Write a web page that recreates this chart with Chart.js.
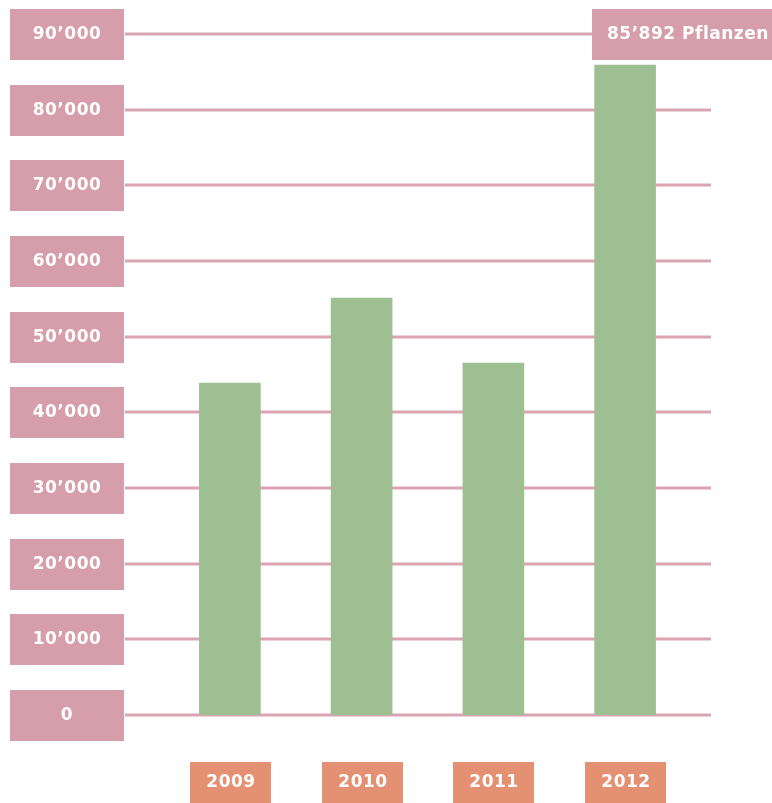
<!DOCTYPE html>
<html>
<head>
<meta charset="utf-8">
<script src="https://cdn.jsdelivr.net/npm/chart.js@4"></script>
<style>
	html, body { margin: 0; padding: 0; background: #fff; }
	canvas { display: block; }
</style>
</head>
<body>
<canvas id="chart" width="772" height="803"></canvas>
<script>
const years = ['2009', '2010', '2011', '2012']
const plants = [43850, 55100, 46500, 85892]
const yTickValues = [0, 10000, 20000, 30000, 40000, 50000, 60000, 70000, 80000, 90000]
const yTickLabels = ['0', '10’000', '20’000', '30’000', '40’000', '50’000', '60’000', '70’000', '80’000', '90’000']
const totalLabel = '85’892 Pflanzen'

const pink = '#d69dab'
const gridPink = '#dca4b2'
const orange = '#e39073'
const green = '#9ebf92'
const labelFont = 'bold 17px "DejaVu Sans", Verdana, sans-serif'

// gridlines and the boxed labels are drawn by hand, the axes themselves are hidden
const boxes = {
	id: 'boxes',
	beforeDatasetsDraw(chart) {
		const ctx = chart.ctx
		const y = chart.scales.y
		ctx.save()
		ctx.strokeStyle = gridPink
		ctx.lineWidth = 3
		yTickValues.forEach((v, i) => {
			const py = Math.round(y.getPixelForValue(v))
			const end = i === yTickValues.length - 1 ? 592 : 711
			ctx.beginPath()
			ctx.moveTo(125, py)
			ctx.lineTo(end, py)
			ctx.stroke()
		})
		ctx.restore()
	},
	afterDraw(chart) {
		const ctx = chart.ctx
		const x = chart.scales.x
		const y = chart.scales.y
		ctx.save()
		ctx.font = labelFont
		ctx.letterSpacing = '0.5px'
		ctx.textBaseline = 'middle'

		// y labels
		yTickValues.forEach((v, i) => {
			const py = Math.round(y.getPixelForValue(v))
			ctx.fillStyle = pink
			ctx.fillRect(10, py - 25, 114, 51)
			ctx.fillStyle = '#fff'
			ctx.textAlign = 'center'
			ctx.fillText(yTickLabels[i], 67, py + 1)
		})

		// year labels
		years.forEach((yr, i) => {
			const px = Math.round(x.getPixelForValue(i))
			ctx.fillStyle = orange
			ctx.fillRect(px - 40, 762, 81, 41)
			ctx.fillStyle = '#fff'
			ctx.textAlign = 'center'
			ctx.fillText(yr, px + 1, 783)
		})

		// total box top right
		const top = Math.round(y.getPixelForValue(yTickValues[yTickValues.length - 1]))
		ctx.fillStyle = pink
		ctx.fillRect(592, top - 25, 180, 51)
		ctx.fillStyle = '#fff'
		ctx.textAlign = 'left'
		ctx.fillText(totalLabel, 607, top + 1)
		ctx.restore()
	}
}

new Chart(document.getElementById('chart'), {
	type: 'bar',
	data: {
		labels: years,
		datasets: [
			{
				data: plants,
				backgroundColor: green,
				borderWidth: 0,
				barThickness: 61
			}
		]
	},
	options: {
		responsive: false,
		animation: false,
		layout: {
			padding: { left: 164, right: 81, top: 34, bottom: 88 }
		},
		plugins: {
			legend: { display: false },
			tooltip: { enabled: false }
		},
		scales: {
			x: { display: false },
			y: { display: false, min: 0, max: 90000 }
		}
	},
	plugins: [boxes]
})
</script>
</body>
</html>
